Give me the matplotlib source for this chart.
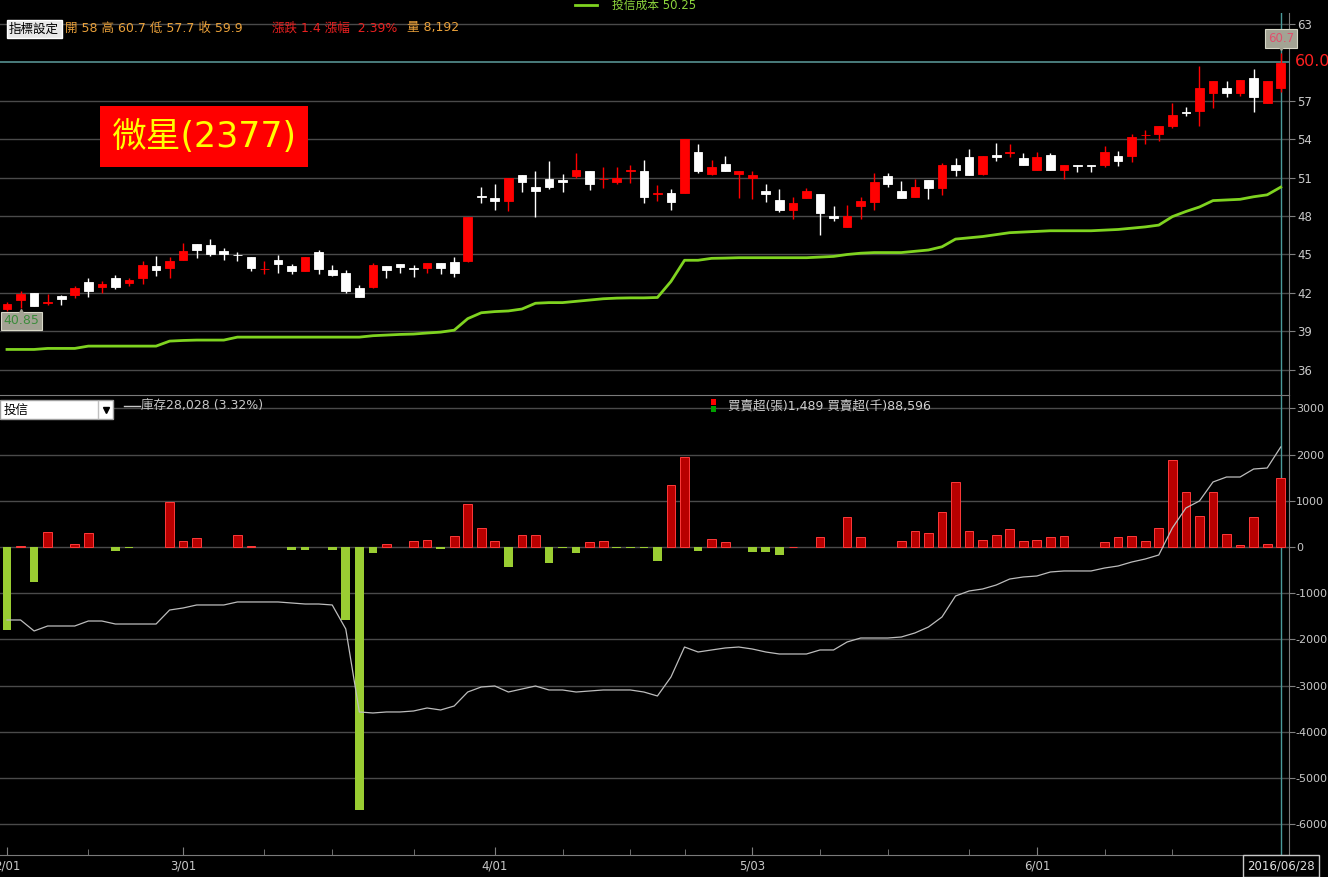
import matplotlib
matplotlib.use('Agg')
from matplotlib import pyplot as plt
from matplotlib.patches import Rectangle
from matplotlib.lines import Line2D
import numpy as np

plt.rcParams['font.family'] = ['DejaVu Sans', 'Noto Sans CJK TC']

# ---- data ----
date_ticks = [0, 13, 36, 55, 76]
date_labels = ['2/01', '3/01', '4/01', '5/03', '6/01']
minor_ticks = [6, 19, 24, 30, 41, 46, 50, 60, 65, 71, 81, 86]

opens = [40.72, 41.45, 42.0, 41.25, 41.8, 41.84, 42.88, 42.46, 43.14, 42.78,
         43.19, 44.1, 43.97, 44.59, 45.81, 45.74, 45.27, 44.98, 44.8, 43.85,
         44.57, 44.1, 43.71, 45.19, 43.76, 43.55, 42.36, 42.49, 44.1, 44.26,
         43.9, 43.97, 44.33, 44.41, 44.51, 49.55, 49.4, 49.17, 51.17, 50.23,
         50.86, 50.83, 51.14, 51.48, 50.86, 50.67, 51.5, 51.5, 49.75, 49.79,
         49.82, 52.99, 51.3, 52.05, 51.3, 50.96, 49.95, 49.24, 48.46, 49.43,
         49.71, 48.0, 47.17, 48.78, 49.06, 51.09, 49.94, 49.5, 50.77, 50.2,
         51.97, 52.59, 51.27, 52.75, 52.9, 52.51, 51.6, 52.75, 51.6, 51.95,
         51.95, 51.97, 52.67, 52.7, 54.3, 54.38, 55.01, 56.07, 56.2, 57.61,
         57.94, 57.61, 58.72, 56.83, 58.0]
highs = [41.32, 42.15, 42.0, 41.92, 41.85, 42.54, 43.2, 42.96, 43.37, 43.19,
         44.49, 44.88, 44.78, 45.87, 45.81, 46.18, 45.5, 45.19, 44.8, 44.52,
         44.96, 44.28, 44.8, 45.35, 44.18, 43.79, 42.62, 44.31, 44.1, 44.26,
         44.18, 44.33, 44.33, 44.78, 47.9, 50.23, 50.49, 50.93, 51.17, 51.48,
         52.28, 51.3, 52.93, 51.48, 51.79, 51.84, 51.97, 52.36, 50.41, 50.08,
         54.0, 53.61, 52.36, 52.67, 51.48, 51.5, 50.49, 50.08, 49.48, 50.15,
         49.71, 48.78, 48.85, 49.5, 51.32, 51.37, 50.75, 50.9, 50.77, 52.15,
         52.49, 53.24, 52.67, 53.66, 53.6, 52.88, 52.96, 52.88, 51.97, 51.95,
         51.95, 53.48, 53.03, 54.38, 54.7, 55.01, 56.77, 56.46, 59.71, 58.52,
         58.49, 58.57, 59.42, 58.52, 60.7]
lows = [40.6, 40.85, 41.0, 41.06, 41.06, 41.58, 41.7, 42.02, 42.31, 42.57,
        42.7, 43.35, 43.19, 44.59, 44.75, 44.88, 44.59, 44.52, 43.74, 43.48,
        43.58, 43.5, 43.71, 43.5, 43.29, 42.02, 41.7, 42.36, 43.19, 43.52,
        43.27, 43.58, 43.5, 43.27, 44.4, 48.98, 48.46, 48.41, 49.89, 47.94,
        50.1, 49.87, 50.93, 50.02, 50.15, 50.49, 50.6, 49.04, 49.19, 48.46,
        49.82, 51.32, 51.17, 51.5, 49.37, 49.3, 49.11, 48.33, 47.74, 49.43,
        46.52, 47.61, 47.17, 47.74, 48.46, 50.23, 49.42, 49.5, 49.34, 49.63,
        51.14, 51.19, 51.16, 52.31, 52.62, 51.97, 51.6, 51.6, 50.85, 51.45,
        51.45, 51.84, 51.92, 52.2, 53.6, 53.87, 54.83, 55.79, 55.01, 56.39,
        57.3, 57.35, 56.13, 56.83, 57.7]
closes = [41.14, 41.9, 41.0, 41.3, 41.53, 42.36, 42.15, 42.7, 42.49, 43.0,
          44.18, 43.81, 44.49, 45.27, 45.37, 45.03, 45.03, 44.94, 43.97, 43.89,
          44.28, 43.74, 44.8, 43.87, 43.42, 42.15, 41.7, 44.18, 43.81, 44.0,
          43.88, 44.33, 43.97, 43.58, 47.9, 49.5, 49.19, 50.93, 50.67, 49.97,
          50.28, 50.67, 51.56, 50.52, 50.9, 50.93, 51.55, 49.5, 49.78, 49.11,
          54.0, 51.5, 51.82, 51.5, 51.48, 51.19, 49.71, 48.46, 49.01, 49.95,
          48.26, 47.81, 48.0, 49.17, 50.62, 50.52, 49.42, 50.23, 50.2, 51.97,
          51.58, 51.19, 52.67, 52.59, 52.95, 51.97, 52.59, 51.6, 51.97, 51.93,
          51.93, 52.98, 52.31, 54.15, 54.33, 55.01, 55.87, 56.03, 57.97, 58.52,
          57.61, 58.57, 57.24, 58.52, 59.9]

# 投信成本
cost = [37.6, 37.6, 37.6, 37.68, 37.68, 37.68, 37.86, 37.86, 37.86, 37.86,
        37.86, 37.86, 38.25, 38.3, 38.33, 38.33, 38.33, 38.56, 38.56, 38.56,
        38.56, 38.56, 38.56, 38.56, 38.56, 38.56, 38.56, 38.67, 38.72, 38.77,
        38.8, 38.88, 38.95, 39.1, 40.0, 40.46, 40.55, 40.6, 40.75, 41.2,
        41.25, 41.25, 41.35, 41.45, 41.55, 41.6, 41.62, 41.62, 41.65, 42.9,
        44.55, 44.55, 44.7, 44.72, 44.75, 44.75, 44.75, 44.75, 44.75, 44.75,
        44.8, 44.85, 45.0, 45.1, 45.15, 45.15, 45.15, 45.25, 45.35, 45.6,
        46.2, 46.3, 46.4, 46.55, 46.7, 46.75, 46.8, 46.85, 46.85, 46.85,
        46.85, 46.9, 46.95, 47.05, 47.15, 47.29, 47.95, 48.35, 48.7, 49.2,
        49.25, 49.3, 49.5, 49.65, 50.25]

# 買賣超(張)
net_buy = [-1800, 20, -760, 330, 0, 72, 308, 0, -93, -20,
           0, 0, 968, 136, 200, 0, 0, 258, 14, 0,
           0, -72, -72, 0, -72, -1580, -5690, -122, 72, 0,
           136, 158, -50, 244, 932, 416, 136, -437, 258, 258,
           -350, -15, -136, 107, 136, -15, -15, -30, -308, 1340,
           1957, -93, 172, 107, 0, -115, -115, -180, 10, 0,
           215, 0, 645, 215, 0, 0, 136, 351, 301, 760,
           1398, 352, 158, 258, 388, 136, 158, 215, 237, 0,
           0, 108, 215, 237, 136, 409, 1874, 1192, 668, 1192,
           280, 50, 646, 65, 1489]

# 庫存 line, in the lower panel's units
inventory_line = [-1580, -1580, -1818, -1710, -1710, -1710, -1602, -1602, -1667, -1667,
                  -1667, -1667, -1364, -1320, -1255, -1255, -1255, -1190, -1190, -1190,
                  -1190, -1212, -1234, -1234, -1255, -1775, -3571, -3593, -3571, -3571,
                  -3550, -3485, -3528, -3442, -3139, -3030, -3009, -3139, -3074, -3009,
                  -3095, -3095, -3139, -3117, -3095, -3095, -3095, -3139, -3225, -2814,
                  -2165, -2273, -2229, -2186, -2165, -2208, -2273, -2316, -2316, -2316,
                  -2229, -2229, -2056, -1970, -1970, -1970, -1948, -1861, -1732, -1515,
                  -1061, -952, -909, -823, -693, -649, -628, -541, -519, -519,
                  -519, -455, -411, -325, -260, -173, 411, 844, 996, 1407,
                  1515, 1515, 1688, 1710, 2165]

W, H = 1328, 877


def fx(x):
    return x / W


def fy(y):
    return 1 - y / H


x = np.arange(len(closes))
o = np.array(opens)
c = np.array(closes)
up = c >= o
candle_col = np.where(up, '#ff0000', '#ffffff')

fig = plt.figure(figsize=(W / 100, H / 100), dpi=100, facecolor='black')
ax1 = fig.add_axes([0, fy(395), fx(1289), 382 / H], facecolor='black')
ax2 = fig.add_axes([0, fy(855), fx(1289), 460 / H], facecolor='black', sharex=ax1)

grid_col = '#4a4a4a'
tick_col = '#c8c8c8'

# ---- price panel ----
ax1.set_xlim(-0.517, 94.61)
ax1.set_ylim(34.05, 63.82)
for v in range(36, 64, 3):
    if v != 60:
        ax1.axhline(v, color=grid_col, lw=1, zorder=0)
ax1.axhline(60, color='#4f8585', lw=1.3, zorder=1)
ax1.axvline(94, color='#4a9a9a', lw=1, zorder=1)

ax1.vlines(x, lows, highs, colors=candle_col, lw=1, zorder=3)
body = np.maximum(np.abs(c - o), 0.05)
ax1.bar(x, body, width=0.64, bottom=np.minimum(o, c), color=candle_col,
        edgecolor=candle_col, linewidth=0.6, zorder=4)
ax1.plot(x, cost, color='#7fd320', lw=2, zorder=2)

ax1.yaxis.tick_right()
ax1.set_yticks([36, 39, 42, 45, 48, 51, 54, 57, 63])
ax1.tick_params(axis='y', colors='#808080', labelcolor=tick_col, labelsize=8.5,
                length=4, pad=2)
ax1.tick_params(axis='x', bottom=False, labelbottom=False)
for s in ['left', 'top', 'bottom']:
    ax1.spines[s].set_visible(False)
ax1.spines['right'].set_color('#7a7a7a')

fig.text(fx(1295), fy(62), '60.0', color='#ff2020', fontsize=11.5, va='center', ha='left')

# max / min markers
ax1.text(94, 61.8, '60.7', color='#e0506e', fontsize=8.5, ha='center', va='center',
         bbox=dict(boxstyle='square,pad=0.25', fc='#a3a394', ec='#d8d8c8', lw=0.8), zorder=6)
ax1.plot(94, 61.15, marker='v', color='#a3a394', ms=5, zorder=6)
ax1.text(1.05, 39.85, '40.85', color='#3c8c3c', fontsize=9, ha='center', va='center',
         bbox=dict(boxstyle='square,pad=0.2', fc='#a3a394', ec='#d8d8c8', lw=0.8), zorder=6)
ax1.plot(1, 40.5, marker='^', color='#a3a394', ms=5, zorder=6)

# ---- institutional panel ----
ax2.set_ylim(-6667, 3290)
for v in range(-6000, 3001, 1000):
    ax2.axhline(v, color=grid_col, lw=1, zorder=0)
ax2.axvline(94, color='#4a9a9a', lw=1, zorder=1)
nb = np.array(net_buy)
pos = nb > 0
ax2.bar(x[pos], nb[pos], width=0.64, color='#b80000', edgecolor='#ff3a3a', linewidth=0.7, zorder=3)
ax2.bar(x[~pos], nb[~pos], width=0.64, color='#9acd32', linewidth=0, zorder=3)
ax2.plot(x, inventory_line, color='#bdbdbd', lw=0.9, zorder=4)

ax2.yaxis.tick_right()
ax2.set_yticks(range(-6000, 3001, 1000))
ax2.set_yticklabels([str(v) for v in range(-6000, 3001, 1000)])
ax2.tick_params(axis='y', colors='#808080', labelcolor=tick_col, labelsize=8,
                length=4, pad=1)
ax2.set_xticks(date_ticks)
ax2.set_xticklabels(date_labels)
ax2.set_xticks(minor_ticks, minor=True)
ax2.tick_params(axis='x', which='major', direction='in', colors='#808080',
                labelcolor=tick_col, labelsize=8.5, length=6, pad=3)
ax2.tick_params(axis='x', which='minor', direction='in', colors='#808080', length=4)
ax2.spines['left'].set_visible(False)
for s in ['right', 'top', 'bottom']:
    ax2.spines[s].set_color('#7a7a7a')

# ---- header texts ----
fig.add_artist(Line2D([fx(575), fx(597)], [fy(5), fy(5)], color='#7fd320', lw=2))
fig.text(fx(612), fy(5), '投信成本 50.25', color='#8cd43c', fontsize=8.5, va='center')

fig.text(fx(34), fy(29), '指標設定', color='black', fontsize=9, ha='center', va='center',
         bbox=dict(boxstyle='square,pad=0.2', fc='#e8e8e8', ec='#ffffff', lw=1))
fig.text(fx(65), fy(28), '開 58 高 60.7 低 57.7 收 59.9', color='#eaa13a',
         fontsize=9, va='center')
fig.text(fx(272), fy(28), '漲跌 1.4 漲幅  2.39%', color='#e82020', fontsize=9, va='center')
fig.text(fx(407), fy(28), '量 8,192', color='#eaa13a', fontsize=9, va='center')

# stock name
fig.add_artist(Rectangle((fx(100), fy(167)), fx(208), 61 / H, transform=fig.transFigure,
                         facecolor='#ff0000', edgecolor='none'))
fig.text(fx(204), fy(137), '微星(2377)', color='#ffff00', fontsize=25, ha='center', va='center')

# lower panel header
fig.add_artist(Rectangle((0, fy(419)), fx(113), 19 / H, transform=fig.transFigure,
                         facecolor='white', edgecolor='#a0a0a0', lw=1))
fig.add_artist(Line2D([fx(98), fx(98)], [fy(401), fy(418)], color='#c0c0c0', lw=1))
fig.add_artist(Line2D([fx(106)], [fy(410)], marker='v', color='black', ms=4))
fig.text(fx(4), fy(410), '投信', color='black', fontsize=9, va='center')
fig.add_artist(Line2D([fx(124), fx(140)], [fy(406), fy(406)], color='#c8c8c8', lw=1))
fig.text(fx(141), fy(406), '庫存28,028 (3.32%)', color='#c8c8c8', fontsize=9, va='center')
fig.add_artist(Rectangle((fx(711), fy(405)), fx(5), 6 / H, transform=fig.transFigure,
                         facecolor='#ff0000', edgecolor='none'))
fig.add_artist(Rectangle((fx(711), fy(412)), fx(5), 6 / H, transform=fig.transFigure,
                         facecolor='#00a000', edgecolor='none'))
fig.text(fx(728), fy(406), '買賣超(張)1,489 買賣超(千)88,596', color='#d0d0d0',
         fontsize=9, va='center')

# current date box
fig.text(fx(1281), fy(866), '2016/06/28', color='#e0e0e0', fontsize=8.5, ha='center', va='center',
         bbox=dict(boxstyle='square,pad=0.35', fc='black', ec='#c8c8c8', lw=1))

fig.savefig('out.png', dpi=100, facecolor='black')
